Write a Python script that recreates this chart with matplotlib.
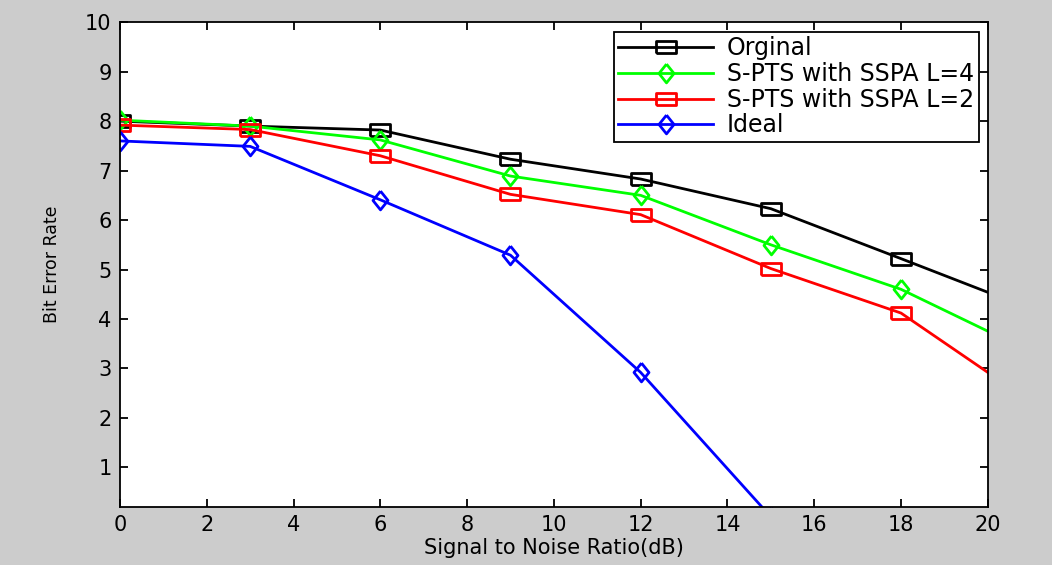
import matplotlib
matplotlib.use("Agg")
import matplotlib.pyplot as plt

plt.rcParams['font.family'] = ['DejaVu Sans']

snr = [0, 3, 6, 9, 12, 15, 18, 21]
snr_ideal = [0, 3, 6, 9, 12, 15]
ber_orginal = [8.0, 7.9, 7.82, 7.23, 6.83, 6.23, 5.22, 4.2]
ber_l4 = [8.02, 7.9, 7.62, 6.89, 6.5, 5.5, 4.6, 3.33]
ber_l2 = [7.92, 7.83, 7.3, 6.52, 6.11, 5.02, 4.12, 2.32]
ber_ideal = [7.6, 7.49, 6.41, 5.29, 2.92, 0.0]

# the picture is stretched sideways, so squares are wide and diamonds a bit narrow
wide_sq = [(-1, -0.62), (1, -0.62), (1, 0.62), (-1, 0.62), (-1, -0.62)]
diamond = [(0, 1), (0.8, 0), (0, -1), (-0.8, 0), (0, 1)]

fig = plt.figure(figsize=(10.52, 5.65), dpi=100)
fig.patch.set_facecolor('#cccccc')
ax = fig.add_axes([0.114, 0.1027, 0.825, 0.858])

kw = dict(linewidth=2.0, markerfacecolor='none', markeredgewidth=2.0)
ax.plot(snr, ber_orginal, '-', marker=wide_sq, markersize=14, color='black', label='Orginal', **kw)
ax.plot(snr, ber_l4, '-', marker=diamond, markersize=13.5, color='#00ff00', label='S-PTS with SSPA L=4', **kw)
ax.plot(snr, ber_l2, '-', marker=wide_sq, markersize=14, color='red', label='S-PTS with SSPA L=2', **kw)
ax.plot(snr_ideal, ber_ideal, '-', marker=diamond, markersize=13.5, color='blue', label='Ideal', **kw)

ax.set_xlim(0, 20)
ax.set_ylim(0.2, 10)
ax.set_xticks(range(0, 21, 2))
ax.set_yticks(range(1, 11))
ax.tick_params(direction='in', top=True, right=True, labelsize=15, length=6, width=1.3, pad=6)
for s in ax.spines.values():
    s.set_linewidth(1.3)

ax.set_xlabel('Signal to Noise Ratio(dB)', fontsize=15, labelpad=2)
ax.set_ylabel('Bit Error Rate', fontsize=12.5, labelpad=17)

leg = ax.legend(loc='upper right', bbox_to_anchor=(0.995, 0.99), fontsize=17, fancybox=False,
                edgecolor='black', framealpha=1, handlelength=4.0, borderpad=0.2,
                labelspacing=0.07, handletextpad=0.6, borderaxespad=0.2)
leg.get_frame().set_linewidth(1.3)

fig.savefig('out.png', dpi=100, facecolor=fig.get_facecolor())
